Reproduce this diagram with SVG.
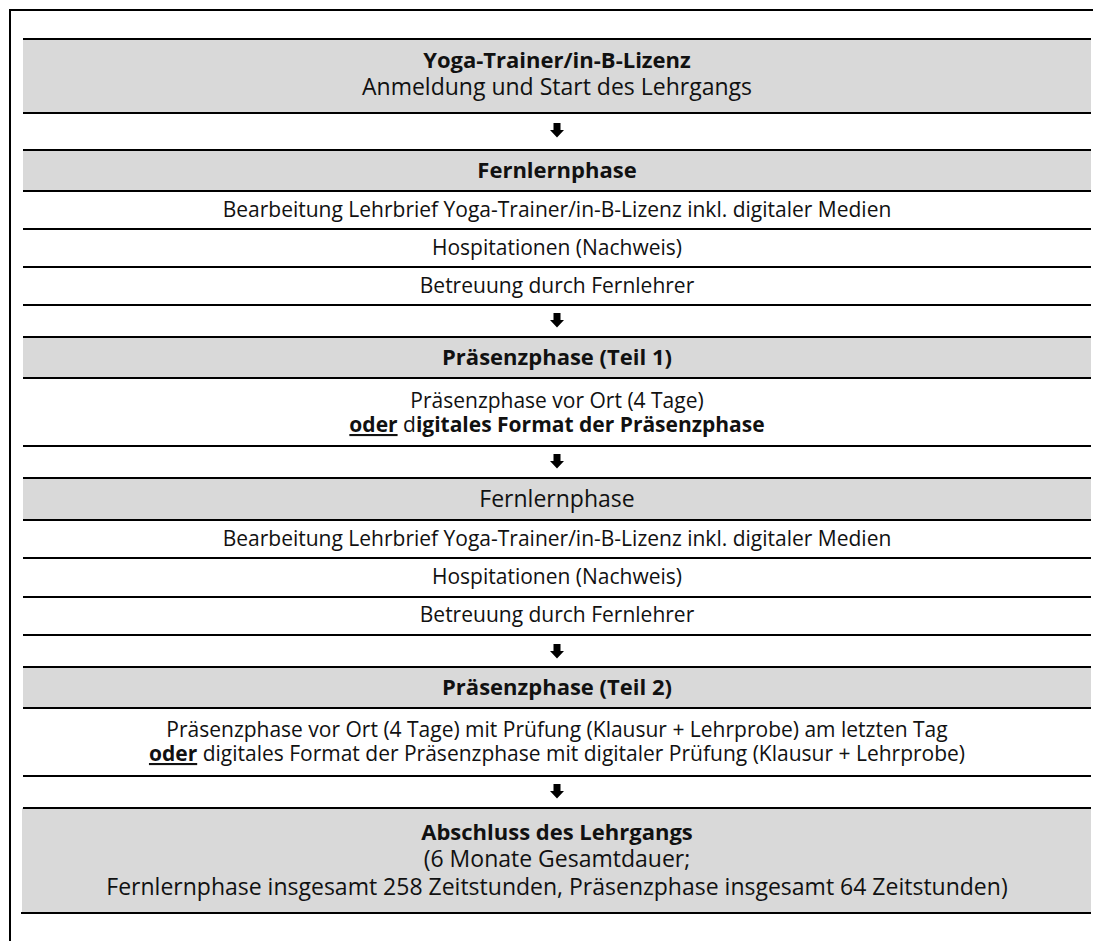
<svg xmlns="http://www.w3.org/2000/svg" width="1094" height="941" viewBox="0 0 1094 941">
<style>
.bg{fill:#d9d9d9}
.ln{stroke:#000;stroke-width:2;fill:none}
text{font-family:"Open Sans","Liberation Sans",sans-serif;fill:#111;text-anchor:middle}
.b{font-weight:bold;font-size:22px}
.r{font-size:21px}
.h{font-size:23px}
.f{font-size:23px}
</style>
<defs>
<path id="arr" d="M-3.5,-7 H3.5 V0 H7 L0,7.5 L-7,0 H-3.5 Z" fill="#000"/>
</defs>
<rect width="1094" height="941" fill="#fff"/>
<g id="frame">
<line class="ln" x1="9" y1="10" x2="1093" y2="10"/>
<line class="ln" x1="10" y1="9" x2="10" y2="941"/>
</g>
<g id="n1">
<rect class="bg" x="23" y="39" width="1068" height="74"/>
<line class="ln" x1="23" y1="39" x2="1091" y2="39"/>
<line class="ln" x1="23" y1="113" x2="1091" y2="113"/>
<text class="b" x="557" y="68">Yoga-Trainer/in-B-Lizenz</text>
<text class="h" x="557" y="95">Anmeldung und Start des Lehrgangs</text>
</g>
<g id="n2">
<rect class="bg" x="23" y="150" width="1068" height="41"/>
<line class="ln" x1="23" y1="150" x2="1091" y2="150"/>
<line class="ln" x1="23" y1="191" x2="1091" y2="191"/>
<text class="b" x="557" y="178">Fernlernphase</text>
</g>
<g id="n3">
<line class="ln" x1="23" y1="229" x2="1091" y2="229"/>
<text class="r" x="557" y="217">Bearbeitung Lehrbrief Yoga-Trainer/in-B-Lizenz inkl. digitaler Medien</text>
</g>
<g id="n4">
<line class="ln" x1="23" y1="267" x2="1091" y2="267"/>
<text class="r" x="557" y="255">Hospitationen (Nachweis)</text>
</g>
<g id="n5">
<line class="ln" x1="23" y1="305" x2="1091" y2="305"/>
<text class="r" x="557" y="293">Betreuung durch Fernlehrer</text>
</g>
<g id="n6">
<rect class="bg" x="23" y="337" width="1068" height="41"/>
<line class="ln" x1="23" y1="337" x2="1091" y2="337"/>
<line class="ln" x1="23" y1="378" x2="1091" y2="378"/>
<text class="b" x="557" y="365">Präsenzphase (Teil 1)</text>
</g>
<g id="n7">
<line class="ln" x1="23" y1="446" x2="1091" y2="446"/>
<text class="r" x="557" y="408">Präsenzphase vor Ort (4 Tage)</text>
<text class="r" x="557" y="432"><tspan font-weight="bold" text-decoration="underline">oder</tspan> d<tspan font-weight="bold">igitales Format der Präsenzphase</tspan></text>
</g>
<g id="n8">
<rect class="bg" x="23" y="478" width="1068" height="42"/>
<line class="ln" x1="23" y1="478" x2="1091" y2="478"/>
<line class="ln" x1="23" y1="520" x2="1091" y2="520"/>
<text class="h" x="557" y="507">Fernlernphase</text>
</g>
<g id="n9">
<line class="ln" x1="23" y1="558" x2="1091" y2="558"/>
<text class="r" x="557" y="546">Bearbeitung Lehrbrief Yoga-Trainer/in-B-Lizenz inkl. digitaler Medien</text>
</g>
<g id="n10">
<line class="ln" x1="23" y1="597" x2="1091" y2="597"/>
<text class="r" x="557" y="584">Hospitationen (Nachweis)</text>
</g>
<g id="n11">
<line class="ln" x1="23" y1="635" x2="1091" y2="635"/>
<text class="r" x="557" y="622">Betreuung durch Fernlehrer</text>
</g>
<g id="n12">
<rect class="bg" x="23" y="667" width="1068" height="41"/>
<line class="ln" x1="23" y1="667" x2="1091" y2="667"/>
<line class="ln" x1="23" y1="708" x2="1091" y2="708"/>
<text class="b" x="557" y="695">Präsenzphase (Teil 2)</text>
</g>
<g id="n13">
<line class="ln" x1="23" y1="776" x2="1091" y2="776"/>
<text class="r" x="557" y="737">Präsenzphase vor Ort (4 Tage) mit Prüfung (Klausur + Lehrprobe) am letzten Tag</text>
<text class="r" x="557" y="761"><tspan font-weight="bold" text-decoration="underline">oder</tspan> digitales Format der Präsenzphase mit digitaler Prüfung (Klausur + Lehrprobe)</text>
</g>
<g id="n14">
<rect class="bg" x="22" y="808" width="1069" height="105"/>
<line class="ln" x1="23" y1="808" x2="1091" y2="808"/>
<line class="ln" x1="21" y1="913" x2="1091" y2="913"/>
<text class="b" x="557" y="840">Abschluss des Lehrgangs</text>
<text class="f" x="557" y="867">(6 Monate Gesamtdauer;</text>
<text class="f" x="557" y="895">Fernlernphase insgesamt 258 Zeitstunden, Präsenzphase insgesamt 64 Zeitstunden)</text>
</g>
<g id="connectors">
<use href="#arr" x="557" y="130"/>
<use href="#arr" x="557" y="320"/>
<use href="#arr" x="557" y="461"/>
<use href="#arr" x="557" y="651"/>
<use href="#arr" x="557" y="791"/>
</g>
</svg>
